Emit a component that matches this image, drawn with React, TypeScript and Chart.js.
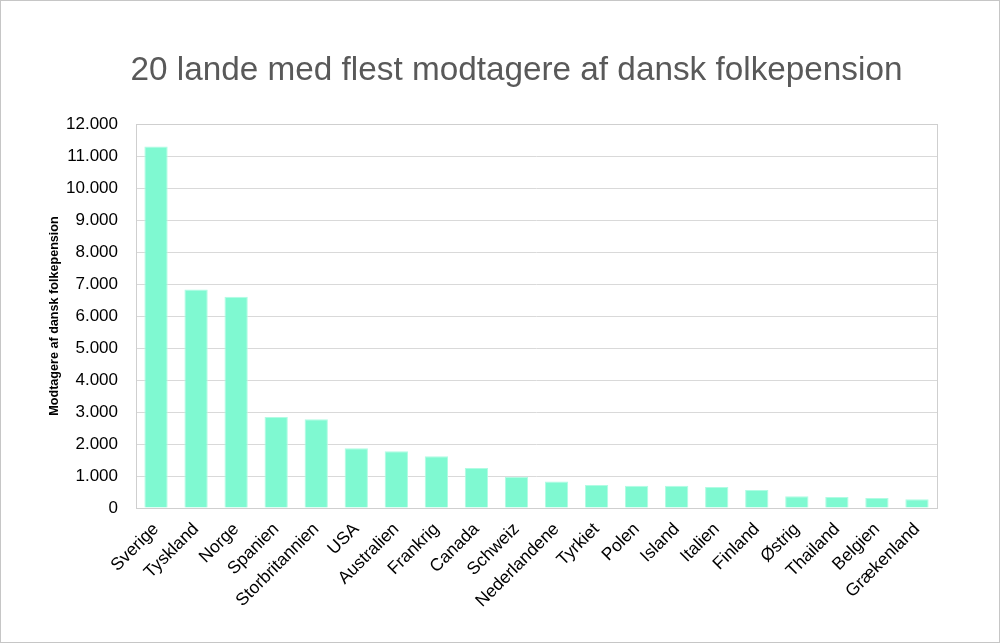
import React, { useEffect, useRef } from "react";
import { Chart, registerables } from "chart.js";

Chart.register(...registerables);

const titleText = "20 lande med flest modtagere af dansk folkepension";
const yAxisTitle = "Modtagere af dansk folkepension";
const countries = [
  "Sverige", "Tyskland", "Norge", "Spanien", "Storbritannien", "USA", "Australien",
  "Frankrig", "Canada", "Schweiz", "Nederlandene", "Tyrkiet", "Polen", "Island",
  "Italien", "Finland", "Østrig", "Thailand", "Belgien", "Grækenland",
];
const recipients = [
  11300, 6830, 6600, 2840, 2770, 1870, 1770, 1620, 1250, 975, 830, 716, 695, 695,
  654, 560, 364, 343, 310, 270,
];
const yMin = 0;
const yMax = 12000;
const yStep = 1000;

function fmt(v: number): string {
  const s = Math.round(v).toString();
  return s.replace(/\B(?=(\d{3})+(?!\d))/g, ".");
}

const frame = {
  id: "frame",
  beforeDraw(chart: any) {
    const { ctx, width, height } = chart;
    ctx.save();
    ctx.fillStyle = "#ffffff";
    ctx.fillRect(0, 0, width, height);
    ctx.strokeStyle = "#c6c6c6";
    ctx.lineWidth = 1;
    ctx.strokeRect(0.5, 0.5, width - 1, height - 1);
    ctx.restore();
  },
  afterDraw(chart: any) {
    const { ctx, chartArea } = chart;
    ctx.save();
    ctx.fillStyle = "#595959";
    ctx.font = "33.3px 'Liberation Sans', Arial, sans-serif";
    ctx.textAlign = "center";
    ctx.textBaseline = "alphabetic";
    ctx.fillText(titleText, 516.5, 80);
    ctx.strokeStyle = "#cfcfcf";
    ctx.lineWidth = 1;
    ctx.strokeRect(
      Math.round(chartArea.left) + 0.5,
      Math.round(chartArea.top) + 0.5,
      Math.round(chartArea.right - chartArea.left),
      Math.round(chartArea.bottom - chartArea.top)
    );
    ctx.restore();
  },
};

export default function App() {
  const ref = useRef<HTMLCanvasElement | null>(null);
  useEffect(() => {
    if (!ref.current) return;
    const chart = new Chart(ref.current, {
      type: "bar",
      data: {
        labels: countries,
        datasets: [
          {
            data: recipients,
            backgroundColor: "#7ff9d1",
            borderColor: "#b0fce3",
            borderWidth: 1,
            barPercentage: 0.6,
            categoryPercentage: 0.97,
          },
        ],
      },
      options: {
        animation: false,
        responsive: false,
        maintainAspectRatio: false,
        layout: { padding: { top: 124, right: 63, bottom: 0, left: 0 } },
        plugins: { legend: { display: false }, title: { display: false }, tooltip: { enabled: false } },
        scales: {
          x: {
            grid: { display: false, drawTicks: false },
            border: { display: false },
            ticks: {
              minRotation: 45,
              maxRotation: 45,
              autoSkip: false,
              padding: 11,
              color: "#000000",
              font: { family: "'Liberation Sans', Arial, sans-serif", size: 17.5 },
            },
            afterFit(scale: any) {
              scale.height = 135;
            },
          },
          y: {
            min: yMin,
            max: yMax,
            ticks: {
              stepSize: yStep,
              padding: 18,
              color: "#000000",
              font: { family: "'Liberation Sans', Arial, sans-serif", size: 17 },
              callback: (v: any) => fmt(Number(v)),
            },
            grid: { color: "#d9d9d9", drawTicks: false, lineWidth: 1 },
            border: { display: false },
            title: {
              display: true,
              text: yAxisTitle,
              color: "#000000",
              font: { family: "'Liberation Sans', Arial, sans-serif", size: 12.6, weight: "bold" },
              padding: { top: 47, bottom: 0 },
            },
            afterFit(scale: any) {
              scale.width = 136;
            },
          },
        },
      },
      plugins: [frame],
    });
    return () => chart.destroy();
  }, []);
  return (
    <div style={{ position: "absolute", left: 0, top: 0, width: 1000, height: 643 }}>
      <canvas ref={ref} width={1000} height={643} style={{ width: 1000, height: 643 }} />
    </div>
  );
}
